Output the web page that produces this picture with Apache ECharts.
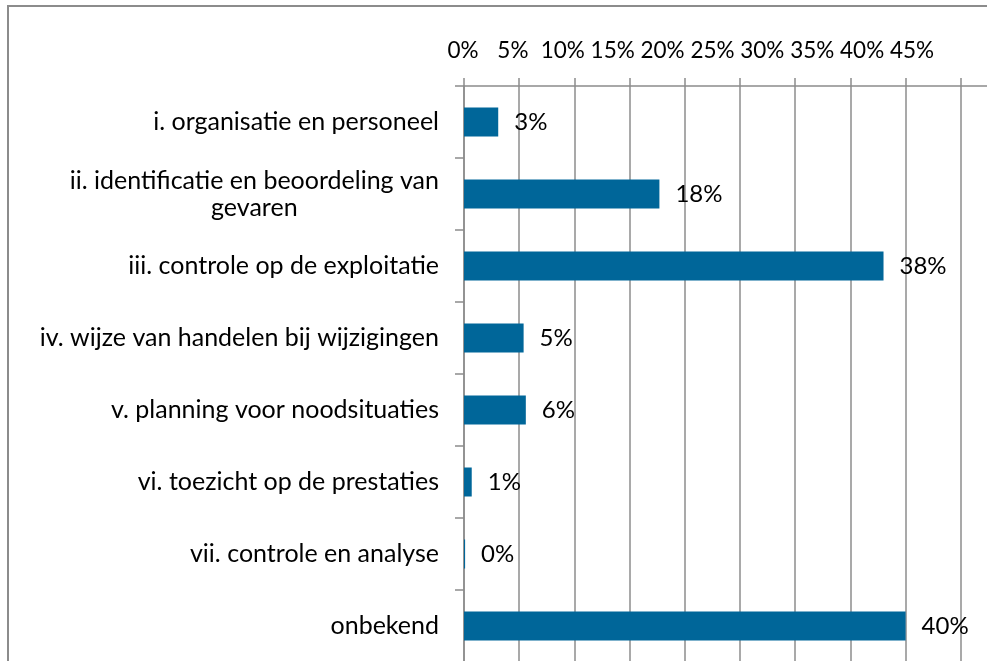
<!DOCTYPE html>
<html>
<head>
<meta charset="utf-8">
<script src="https://cdn.jsdelivr.net/npm/echarts@6/dist/echarts.min.js"></script>
<style>
  html, body { margin: 0; padding: 0; background: #ffffff; }
  #chart { width: 987px; height: 661px; }
</style>
</head>
<body>
<div id="chart"></div>
<script>
// Categories of the safety-management system (top to bottom)
const categories = [
  'i. organisatie en personeel',
  'ii. identificatie en beoordeling van\ngevaren',
  'iii. controle op de exploitatie',
  'iv. wijze van handelen bij wijzigingen',
  'v. planning voor noodsituaties',
  'vi. toezicht op de prestaties',
  'vii. controle en analyse',
  'onbekend'
];

// Share per category, in percent
const shares = [3.1, 17.7, 38, 5.4, 5.6, 0.7, 0.1, 40];

// Labels of the percentage axis
const tickLabels = ['0%', '5%', '10%', '15%', '20%', '25%', '30%', '35%', '40%', '45%'];

const FONT = 'Lato';
const GRID_COLOR = '#8c8c8c';
const BAR_COLOR = '#006699';

const chart = echarts.init(document.getElementById('chart'), null, { renderer: 'canvas' });

chart.setOption({
  animation: false,
  backgroundColor: '#ffffff',
  textStyle: { fontFamily: FONT },
  graphic: [{
    type: 'rect',
    silent: true,
    z: -10,
    shape: { x: 8, y: 6, width: 1200, height: 900 },
    style: { fill: 'none', stroke: GRID_COLOR, lineWidth: 2 }
  }],
  grid: [
    { left: 464, top: 86, width: 552, height: 576, outerBoundsMode: 'none', containLabel: false },
    { left: 463, top: 86, width: 449, height: 10, outerBoundsMode: 'none', containLabel: false }
  ],
  xAxis: [
    {
      gridIndex: 0,
      type: 'value',
      position: 'top',
      min: 0,
      max: 50,
      interval: 5,
      axisLine: { show: true, lineStyle: { color: GRID_COLOR, width: 1.5 } },
      axisTick: { show: true, length: 8, lineStyle: { color: GRID_COLOR, width: 1.5 } },
      splitLine: { show: true, lineStyle: { color: GRID_COLOR, width: 1.5 } },
      axisLabel: { show: false }
    },
    {
      gridIndex: 1,
      type: 'value',
      position: 'top',
      min: 0,
      max: 45,
      interval: 5,
      axisLine: { show: false },
      axisTick: { show: false },
      splitLine: { show: false },
      axisLabel: {
        show: true,
        margin: 22,
        fontSize: 22.5,
        lineHeight: 26,
        color: '#000000',
        fontFamily: FONT,
        formatter: v => tickLabels[Math.round(v / 5)]
      }
    }
  ],
  yAxis: [
    {
      gridIndex: 0,
      type: 'category',
      data: categories,
      inverse: true,
      axisLine: { show: true, lineStyle: { color: GRID_COLOR, width: 1.5 } },
      axisTick: { show: true, length: 9, alignWithLabel: false, lineStyle: { color: GRID_COLOR, width: 1.5 } },
      splitLine: { show: false },
      axisLabel: {
        margin: 25,
        color: '#000000',
        fontFamily: FONT,
        fontSize: 25,
        formatter: v => v.split('\n').map(line => '{c|' + line + '}').join('\n'),
        rich: {
          c: { fontSize: 25, lineHeight: 27, align: 'center', color: '#000000', fontFamily: FONT }
        }
      }
    },
    { gridIndex: 1, type: 'value', show: false, min: 0, max: 1 }
  ],
  series: [{
    type: 'bar',
    xAxisIndex: 0,
    yAxisIndex: 0,
    data: shares,
    barWidth: 29,
    itemStyle: { color: BAR_COLOR },
    label: {
      show: true,
      position: 'right',
      distance: 16,
      color: '#000000',
      fontFamily: FONT,
      fontSize: 24,
      formatter: p => Math.round(p.value) + '%'
    }
  }]
});
</script>
</body>
</html>
